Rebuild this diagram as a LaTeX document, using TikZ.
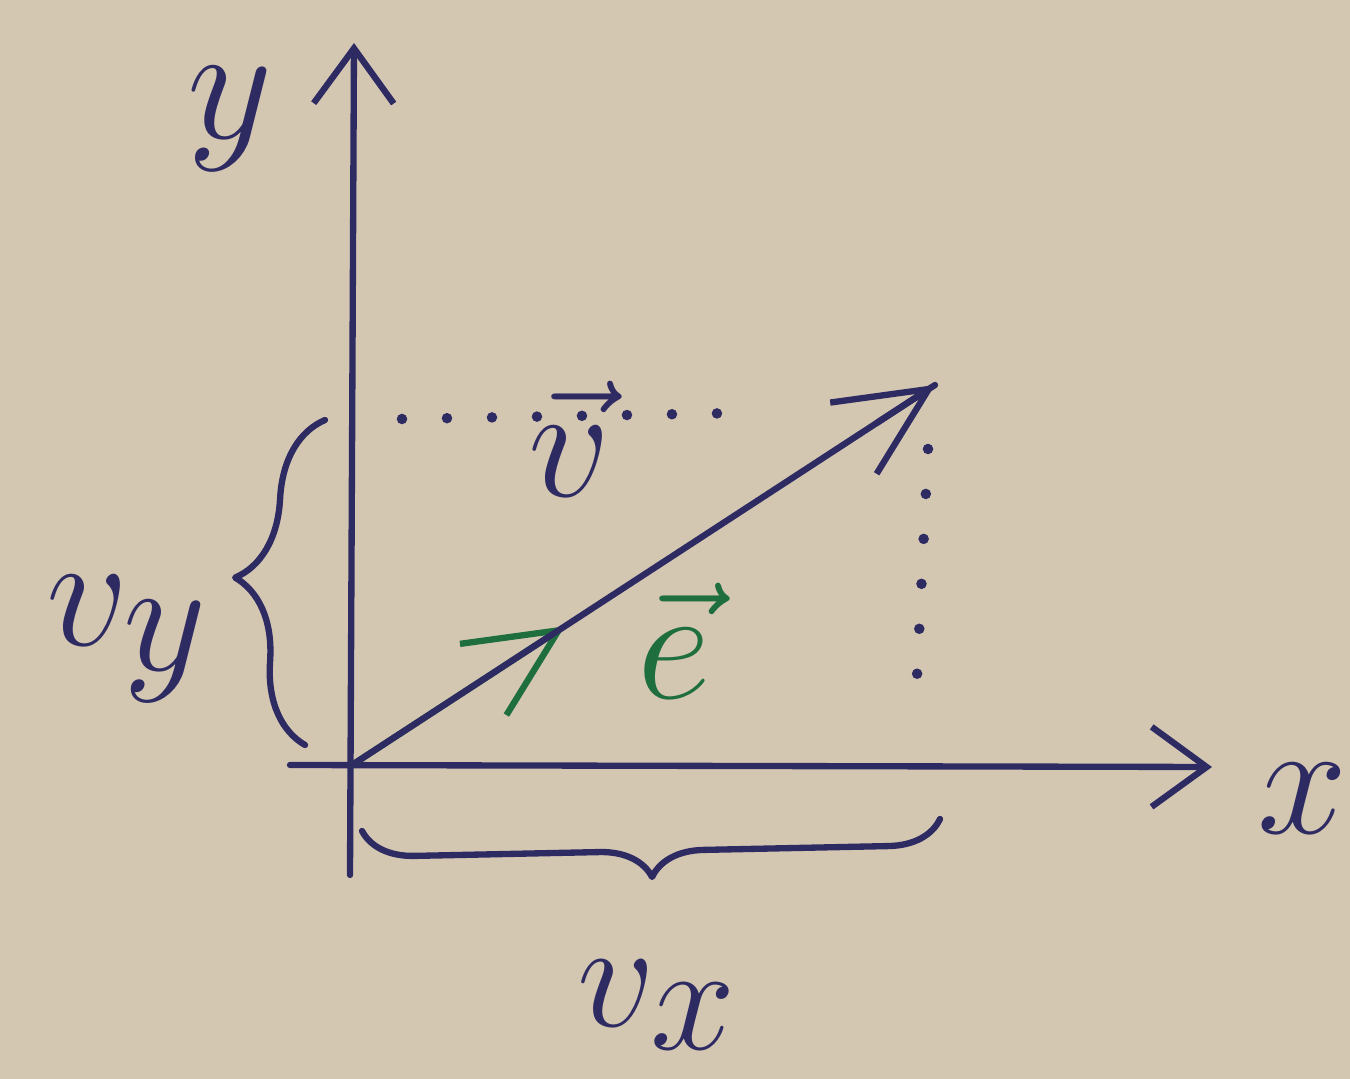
\documentclass[tikz,border=0pt]{standalone}
\usepackage{amsmath,amssymb}
\usepackage{tikz}
\usetikzlibrary{arrows.meta,positioning,calc,decorations.pathreplacing}
\definecolor{Paper}{HTML}{D4C7B2}
\definecolor{Ink}{HTML}{2E2B63}
\definecolor{Green}{HTML}{1F6E3E}

\begin{document}
\begin{tikzpicture}[
  ink/.style={Ink,line width=1.8pt,line cap=round,line join=round},
  axis/.style={ink,-{Straight Barb[length=5.5mm,width=8mm]}},
  vecarrow/.style={ink,-{Straight Barb[length=9mm,width=8.5mm]}},
  dotline/.style={Ink,line width=3pt,line cap=round,dash pattern=on 0pt off 4.5mm},
  cbrace/.style={ink,decorate,decoration={brace,amplitude=#1}},
  lbl/.style={Ink,font=\Huge,inner sep=0pt,scale=#1},
  lbl/.default=1.85]
  \fill[Paper] (0,0) rectangle (13.5,10.79);
  \useasboundingbox (0,0) rectangle (13.5,10.79);

  \coordinate (O) at (3.52,3.14);
  \coordinate (ytop) at (3.54,10.36);
  \coordinate (ybot) at (3.50,2.04);
  \coordinate (xleft) at (2.90,3.14);
  \coordinate (xright) at (12.12,3.12);
  \coordinate (V) at (9.35,6.94);
  \coordinate (E) at ($(O)!0.365!(V)$);

  % axes
  \draw[axis] (ybot) -- (ytop);
  \draw[axis] (xleft) -- (xright);

  % components of v
  \coordinate (h1) at (4.02,6.60);
  \coordinate (h2) at (7.42,6.66);
  \coordinate (d1) at (9.28,6.30);
  \coordinate (d2) at (9.16,3.82);
  \draw[dotline] (h1) -- (h2);
  \draw[dotline] (d1) -- (d2);

  % vectors
  \draw[vecarrow,Green] (O) -- (E);
  \draw[ink] (O) -- (V);
  \draw[vecarrow] ($(O)!0.9!(V)$) -- (V);

  % braces
  \draw[cbrace=8mm] (3.05,3.34) -- (3.25,6.59);
  \draw[cbrace=5.2mm] (9.40,2.60) -- (3.62,2.48);

  % labels
  \node[lbl=1.9] (ylab) at (2.30,9.60) {$y$};
  \node[lbl] (xlab) at (13.02,2.80) {$x$};
  \node[lbl] (vlab) at (5.70,6.40) {$\vec{v}$};
  \node[lbl,Green] (elab) at (6.74,4.38) {$\vec{e}$};
  \node[lbl] (vylab) at (1.28,4.40) {$v_{\textstyle y}$};
  \node[lbl=1.75] (vxlab) at (6.58,0.74) {$v_{\textstyle x}$};
\end{tikzpicture}
\end{document}
